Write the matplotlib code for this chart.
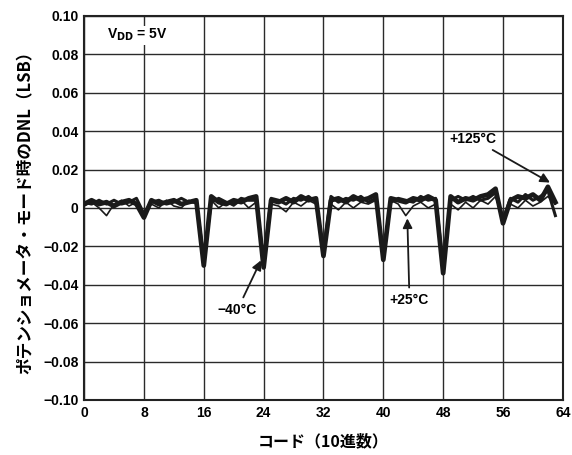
import matplotlib.pyplot as plt

# DNL (LSB) per code, 0..63
codes = list(range(64))

dnl_m40 = [0.002, 0.004, 0.002, 0.003, 0.001, 0.003, 0.004, 0.002,
           -0.005, 0.004, 0.002, 0.003, 0.004, 0.002, 0.003, 0.004,
           -0.030, 0.006, 0.003, 0.002, 0.004, 0.003, 0.005, 0.006,
           -0.031, 0.004, 0.003, 0.005, 0.003, 0.006, 0.004, 0.005,
           -0.025, 0.004, 0.005, 0.003, 0.006, 0.004, 0.005, 0.007,
           -0.027, 0.005, 0.004, 0.003, 0.005, 0.004, 0.006, 0.004,
           -0.034, 0.006, 0.003, 0.005, 0.004, 0.006, 0.007, 0.010,
           -0.008, 0.004, 0.006, 0.005, 0.007, 0.004, 0.011, 0.003]

dnl_125 = [0.003, 0.002, 0.004, 0.002, 0.004, 0.002, 0.003, 0.005,
           -0.003, 0.003, 0.004, 0.002, 0.003, 0.005, 0.003, 0.003,
           -0.026, 0.003, 0.005, 0.003, 0.002, 0.005, 0.004, 0.004,
           -0.028, 0.005, 0.004, 0.002, 0.005, 0.004, 0.006, 0.003,
           -0.022, 0.006, 0.003, 0.005, 0.004, 0.006, 0.003, 0.005,
           -0.024, 0.003, 0.005, 0.004, 0.003, 0.006, 0.004, 0.005,
           -0.030, 0.004, 0.006, 0.004, 0.006, 0.004, 0.005, 0.008,
           -0.006, 0.005, 0.003, 0.007, 0.004, 0.006, 0.009, -0.004]

dnl_25 = [0.001, 0.003, 0.000, -0.004, 0.002, 0.004, 0.001, 0.003,
          -0.004, 0.002, 0.000, 0.004, 0.001, 0.000, 0.004, 0.002,
          -0.024, 0.004, 0.000, 0.003, 0.001, 0.004, 0.000, 0.003,
          -0.026, 0.002, 0.001, -0.002, 0.003, 0.001, 0.004, 0.002,
          -0.021, 0.002, -0.001, 0.003, 0.000, 0.003, 0.002, 0.004,
          -0.022, 0.004, 0.002, -0.004, 0.001, 0.003, 0.000, 0.002,
          -0.028, 0.002, -0.001, 0.003, 0.000, 0.004, 0.002, 0.006,
          -0.006, 0.002, 0.000, 0.004, 0.001, 0.003, 0.006, 0.002]

x_ticks = [0, 8, 16, 24, 32, 40, 48, 56, 64]
y_ticks = [-0.10, -0.08, -0.06, -0.04, -0.02, 0, 0.02, 0.04, 0.06, 0.08, 0.10]
y_tick_labels = ["\u22120.10", "\u22120.08", "\u22120.06", "\u22120.04", "\u22120.02", "0",
                 "0.02", "0.04", "0.06", "0.08", "0.10"]

plt.rcParams['font.family'] = ['Liberation Sans', 'DejaVu Sans']
jp = ['Noto Sans CJK JP', 'Liberation Sans']

fig = plt.figure(figsize=(5.72, 4.55), dpi=100)
ax = fig.add_axes([0.147, 0.121, 0.837, 0.844])

ax.plot(codes, dnl_25, color="#1a1a1a", linewidth=1.2, zorder=3)
ax.plot(codes, dnl_125, color="#1a1a1a", linewidth=2.2, zorder=4)
ax.plot(codes, dnl_m40, color="#1a1a1a", linewidth=3.4, zorder=5)

ax.set_xlim(0, 64)
ax.set_ylim(-0.10, 0.10)
ax.set_xticks(x_ticks)
ax.set_yticks(y_ticks)
ax.set_yticklabels(y_tick_labels)
ax.tick_params(length=0, labelsize=10, pad=4)
for lbl in ax.get_xticklabels() + ax.get_yticklabels():
    lbl.set_fontweight("bold")
ax.grid(True, color="#2a2a2a", linewidth=1.0)
ax.set_axisbelow(True)
for s in ax.spines.values():
    s.set_linewidth(1.5)
    s.set_color("#222222")

ax.set_xlabel("コード（10進数）", family=jp, fontsize=11.5, fontweight="bold", labelpad=10)
ax.set_ylabel("ポテンショメータ・モード時のDNL（LSB）", family=jp, fontsize=12,
              fontweight="bold", labelpad=6)

ax.text(3, 0.09, "V$_{\\mathbf{DD}}$ = 5V", fontsize=10, fontweight="bold", va="center",
        bbox=dict(facecolor="white", edgecolor="none", pad=1))

arrow = dict(arrowstyle="-|>", color="#1a1a1a", linewidth=1.3, mutation_scale=14)
ax.annotate("\u221240\u00b0C", xy=(23.8, -0.026), xytext=(20.5, -0.053),
            fontsize=10, fontweight="bold", ha="center", va="center", arrowprops=arrow)
ax.annotate("+25\u00b0C", xy=(43.2, -0.004), xytext=(43.5, -0.048),
            fontsize=10, fontweight="bold", ha="center", va="center", arrowprops=arrow)
ax.annotate("+125\u00b0C", xy=(62.6, 0.0125), xytext=(52.0, 0.036),
            fontsize=10, fontweight="bold", ha="center", va="center", arrowprops=arrow)

fig.savefig("out.png", dpi=100)
